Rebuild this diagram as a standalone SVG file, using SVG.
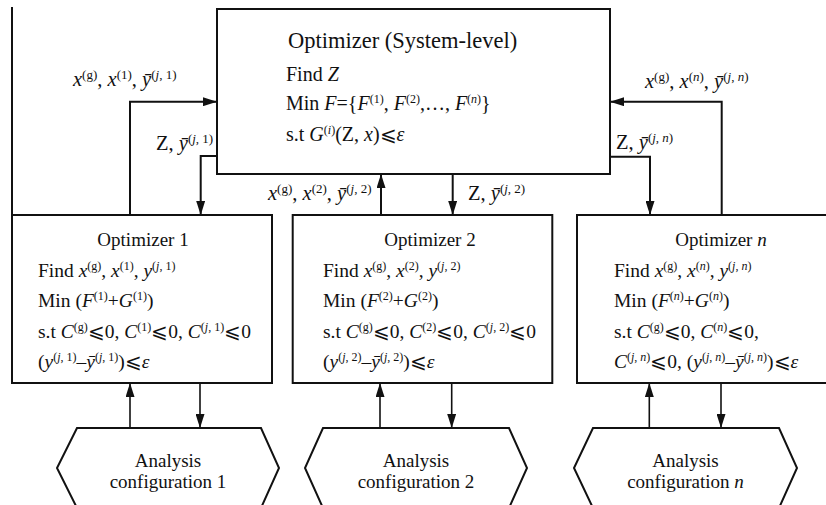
<svg xmlns="http://www.w3.org/2000/svg" width="826" height="505" viewBox="0 0 826 505">
<defs>
<style>
text{font-family:'Liberation Serif','Tinos','Times New Roman','DejaVu Serif',serif;fill:#111;}
.i{font-style:italic;}
.s{font-size:12px;}
.ls{font-size:13px;}
.title{font-size:22.5px;}
.mb{font-size:20px;}
.bt{font-size:19px;text-anchor:middle;}
.bb{font-size:19.5px;}
.lbl{font-size:20.5px;}
.ht{font-size:19px;text-anchor:middle;}
.box{fill:#fff;stroke:#111;stroke-width:2;}
.con{fill:none;stroke:#111;stroke-width:2;marker-end:url(#ah);}
.con2{fill:none;stroke:#111;stroke-width:1.6;marker-end:url(#ah);}
</style>
<marker id="ah" viewBox="0 0 14 9" refX="14" refY="4.5" markerWidth="14" markerHeight="9" markerUnits="userSpaceOnUse" orient="auto">
<path d="M0,0 L14,4.5 L0,9 Z" fill="#111"/>
</marker>
</defs>
<rect width="826" height="505" fill="#fff"/>
<line x1="12" y1="7" x2="12" y2="215" stroke="#111" stroke-width="2"/>

<g id="connectors" font-family="Liberation Serif, serif">
<path class="con" d="M130,215 V101.7 H217"/>
<path class="con" d="M217,156 H200.7 V215"/>
<path class="con" d="M381,215 V174"/>
<path class="con" d="M452.7,174 V215"/>
<path class="con" d="M721.7,215 V101.7 H610"/>
<path class="con" d="M610,156.7 H650 V215"/>
<path class="con2" d="M130,428 V383"/>
<path class="con2" d="M200,383 V428"/>
<path class="con2" d="M380,428 V383"/>
<path class="con2" d="M451.7,383 V428"/>
<path class="con2" d="M649.3,428 V383"/>
<path class="con2" d="M721,383 V428"/>
<text class="lbl" x="73" y="86"><tspan class="i">x</tspan><tspan class="ls" dy="-7">(g)</tspan><tspan dy="7">, </tspan><tspan class="i">x</tspan><tspan class="ls" dy="-7">(1)</tspan><tspan dy="7">, </tspan><tspan class="i">ȳ</tspan><tspan class="ls" dy="-7">(<tspan class="i">j</tspan>, 1)</tspan></text>
<text class="lbl" x="156" y="150">Z, <tspan class="i">ȳ</tspan><tspan class="ls" dy="-7">(<tspan class="i">j</tspan>, 1)</tspan></text>
<text class="lbl" x="268" y="200"><tspan class="i">x</tspan><tspan class="ls" dy="-7">(g)</tspan><tspan dy="7">, </tspan><tspan class="i">x</tspan><tspan class="ls" dy="-7">(2)</tspan><tspan dy="7">, </tspan><tspan class="i">ȳ</tspan><tspan class="ls" dy="-7">(<tspan class="i">j</tspan>, 2)</tspan></text>
<text class="lbl" x="468" y="200">Z, <tspan class="i">ȳ</tspan><tspan class="ls" dy="-7">(<tspan class="i">j</tspan>, 2)</tspan></text>
<text class="lbl" x="645" y="88"><tspan class="i">x</tspan><tspan class="ls" dy="-7">(g)</tspan><tspan dy="7">, </tspan><tspan class="i">x</tspan><tspan class="ls" dy="-7">(<tspan class="i">n</tspan>)</tspan><tspan dy="7">, </tspan><tspan class="i">ȳ</tspan><tspan class="ls" dy="-7">(<tspan class="i">j</tspan>, <tspan class="i">n</tspan>)</tspan></text>
<text class="lbl" x="616" y="149">Z, <tspan class="i">ȳ</tspan><tspan class="ls" dy="-7">(<tspan class="i">j</tspan>, <tspan class="i">n</tspan>)</tspan></text>
</g>

<g id="system-optimizer">
<rect class="box" x="217" y="9" width="393" height="165"/>
<text class="title" x="288" y="48">Optimizer (System-level)</text>
<text class="mb" x="286" y="81">Find <tspan class="i">Z</tspan></text>
<text class="mb" x="286" y="110">Min <tspan class="i">F</tspan>={<tspan class="i">F</tspan><tspan class="s" dy="-7">(1)</tspan><tspan dy="7">, </tspan><tspan class="i">F</tspan><tspan class="s" dy="-7">(2)</tspan><tspan dy="7">,…, </tspan><tspan class="i">F</tspan><tspan class="s" dy="-7">(<tspan class="i">n</tspan>)</tspan><tspan dy="7">}</tspan></text>
<text class="mb" x="286" y="141">s.t <tspan class="i">G</tspan><tspan class="s" dy="-7">(<tspan class="i">i</tspan>)</tspan><tspan dy="7">(Z, </tspan><tspan class="i">x</tspan>)⩽<tspan class="i">ε</tspan></text>
</g>

<g id="optimizer-1">
<rect class="box" x="12" y="215" width="260" height="168"/>
<text class="bt" x="143" y="246">Optimizer 1</text>
<text class="bb" x="38" y="277">Find <tspan class="i">x</tspan><tspan class="s" dy="-7">(g)</tspan><tspan dy="7">, </tspan><tspan class="i">x</tspan><tspan class="s" dy="-7">(1)</tspan><tspan dy="7">, </tspan><tspan class="i">y</tspan><tspan class="s" dy="-7">(<tspan class="i">j</tspan>, 1)</tspan></text>
<text class="bb" x="38" y="307">Min (<tspan class="i">F</tspan><tspan class="s" dy="-7">(1)</tspan><tspan dy="7">+</tspan><tspan class="i">G</tspan><tspan class="s" dy="-7">(1)</tspan><tspan dy="7">)</tspan></text>
<text class="bb" x="38" y="338">s.t <tspan class="i">C</tspan><tspan class="s" dy="-7">(g)</tspan><tspan dy="7">⩽0, </tspan><tspan class="i">C</tspan><tspan class="s" dy="-7">(1)</tspan><tspan dy="7">⩽0, </tspan><tspan class="i">C</tspan><tspan class="s" dy="-7">(<tspan class="i">j</tspan>, 1)</tspan><tspan dy="7">⩽0</tspan></text>
<text class="bb" x="38" y="368">(<tspan class="i">y</tspan><tspan class="s" dy="-7">(<tspan class="i">j</tspan>, 1)</tspan><tspan dy="7">–</tspan><tspan class="i">ȳ</tspan><tspan class="s" dy="-7">(<tspan class="i">j</tspan>, 1)</tspan><tspan dy="7">)⩽</tspan><tspan class="i">ε</tspan></text>
</g>

<g id="optimizer-2">
<rect class="box" x="292.7" y="215" width="259.6" height="168"/>
<text class="bt" x="430" y="246">Optimizer 2</text>
<text class="bb" x="323" y="277">Find <tspan class="i">x</tspan><tspan class="s" dy="-7">(g)</tspan><tspan dy="7">, </tspan><tspan class="i">x</tspan><tspan class="s" dy="-7">(2)</tspan><tspan dy="7">, </tspan><tspan class="i">y</tspan><tspan class="s" dy="-7">(<tspan class="i">j</tspan>, 2)</tspan></text>
<text class="bb" x="323" y="307">Min (<tspan class="i">F</tspan><tspan class="s" dy="-7">(2)</tspan><tspan dy="7">+</tspan><tspan class="i">G</tspan><tspan class="s" dy="-7">(2)</tspan><tspan dy="7">)</tspan></text>
<text class="bb" x="323" y="338">s.t <tspan class="i">C</tspan><tspan class="s" dy="-7">(g)</tspan><tspan dy="7">⩽0, </tspan><tspan class="i">C</tspan><tspan class="s" dy="-7">(2)</tspan><tspan dy="7">⩽0, </tspan><tspan class="i">C</tspan><tspan class="s" dy="-7">(<tspan class="i">j</tspan>, 2)</tspan><tspan dy="7">⩽0</tspan></text>
<text class="bb" x="323" y="368">(<tspan class="i">y</tspan><tspan class="s" dy="-7">(<tspan class="i">j</tspan>, 2)</tspan><tspan dy="7">–</tspan><tspan class="i">ȳ</tspan><tspan class="s" dy="-7">(<tspan class="i">j</tspan>, 2)</tspan><tspan dy="7">)⩽</tspan><tspan class="i">ε</tspan></text>
</g>

<g id="optimizer-n">
<rect class="box" x="577" y="215" width="262" height="168"/>
<text class="bt" x="721" y="246">Optimizer <tspan class="i">n</tspan></text>
<text class="bb" x="614" y="277">Find <tspan class="i">x</tspan><tspan class="s" dy="-7">(g)</tspan><tspan dy="7">, </tspan><tspan class="i">x</tspan><tspan class="s" dy="-7">(<tspan class="i">n</tspan>)</tspan><tspan dy="7">, </tspan><tspan class="i">y</tspan><tspan class="s" dy="-7">(<tspan class="i">j</tspan>, <tspan class="i">n</tspan>)</tspan></text>
<text class="bb" x="614" y="307">Min (<tspan class="i">F</tspan><tspan class="s" dy="-7">(<tspan class="i">n</tspan>)</tspan><tspan dy="7">+</tspan><tspan class="i">G</tspan><tspan class="s" dy="-7">(<tspan class="i">n</tspan>)</tspan><tspan dy="7">)</tspan></text>
<text class="bb" x="614" y="338">s.t <tspan class="i">C</tspan><tspan class="s" dy="-7">(g)</tspan><tspan dy="7">⩽0, </tspan><tspan class="i">C</tspan><tspan class="s" dy="-7">(<tspan class="i">n</tspan>)</tspan><tspan dy="7">⩽0,</tspan></text>
<text class="bb" x="614" y="368"><tspan class="i">C</tspan><tspan class="s" dy="-7">(<tspan class="i">j</tspan>, <tspan class="i">n</tspan>)</tspan><tspan dy="7">⩽0, (</tspan><tspan class="i">y</tspan><tspan class="s" dy="-7">(<tspan class="i">j</tspan>, <tspan class="i">n</tspan>)</tspan><tspan dy="7">–</tspan><tspan class="i">ȳ</tspan><tspan class="s" dy="-7">(<tspan class="i">j</tspan>, <tspan class="i">n</tspan>)</tspan><tspan dy="7">)⩽</tspan><tspan class="i">ε</tspan></text>
</g>

<g id="analysis-1">
<polygon class="box" points="77,428 261,428 279,468 261,508 77,508 57,468"/>
<text class="ht" x="168" y="467">Analysis</text>
<text class="ht" x="168" y="488">configuration 1</text>
</g>
<g id="analysis-2">
<polygon class="box" points="323,428 509,428 527,468 509,508 323,508 305,468"/>
<text class="ht" x="416" y="467">Analysis</text>
<text class="ht" x="416" y="488">configuration 2</text>
</g>
<g id="analysis-n">
<polygon class="box" points="593,428 779,428 797,468 779,508 593,508 574,468"/>
<text class="ht" x="685.5" y="467">Analysis</text>
<text class="ht" x="685.5" y="488">configuration <tspan class="i">n</tspan></text>
</g>
</svg>
